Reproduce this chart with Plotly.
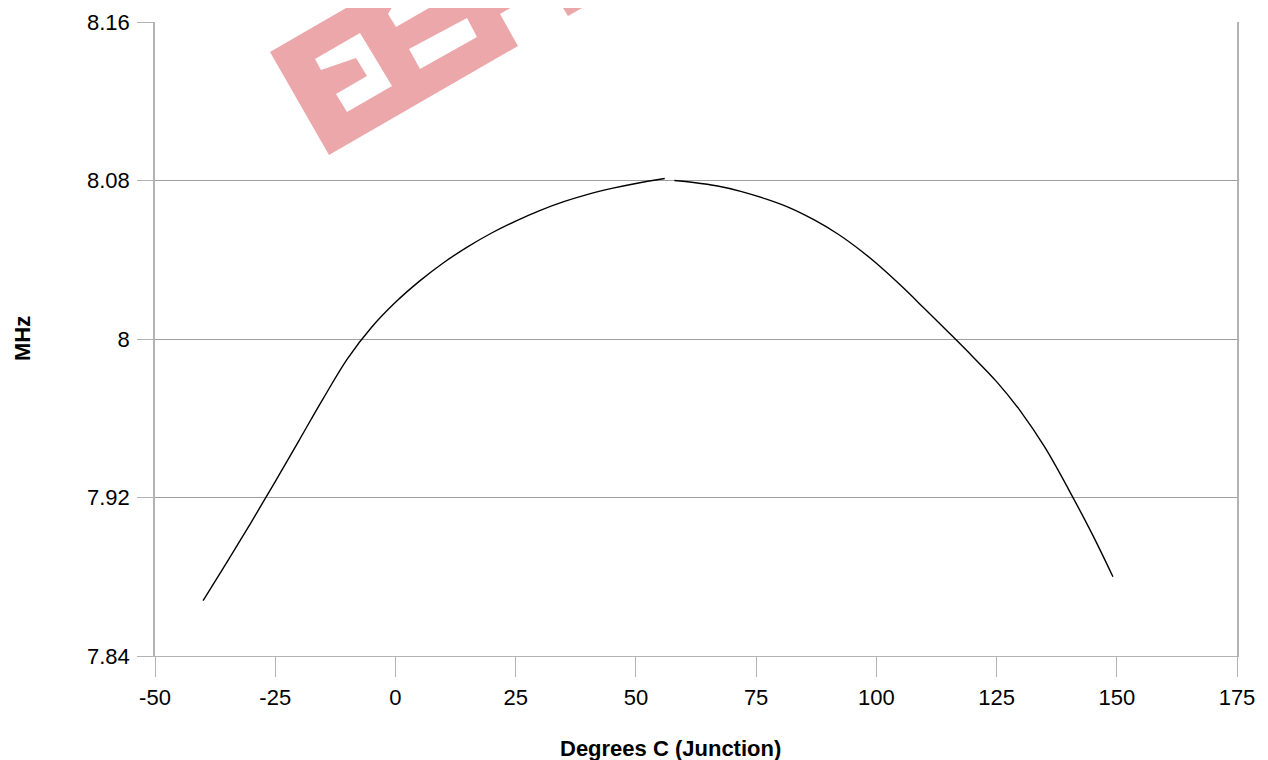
import plotly.graph_objects as go

# Data
temp_left = [-40, -35, -30, -25, -20, -15, -10, -5, 0, 5, 10, 15, 20, 25, 30, 35, 40, 45, 50, 56]
freq_left = [7.868, 7.8875, 7.9075, 7.928, 7.949, 7.970, 7.990, 8.0058, 8.0185, 8.0292, 8.0385, 8.0465,
             8.0535, 8.0595, 8.0648, 8.0693, 8.073, 8.076, 8.0785, 8.081]
temp_right = [58, 62, 67, 72, 77, 82, 87, 92, 97, 100, 105, 110, 115, 120, 125, 130, 135, 140, 145, 149.2]
freq_right = [8.0800, 8.0790, 8.0772, 8.0744, 8.0707, 8.0662, 8.0602, 8.0530, 8.0442, 8.0382, 8.0272,
              8.0154, 8.0034, 7.9912, 7.9785, 7.9635, 7.9455, 7.9240, 7.9010, 7.8800]

x_ticks = [-50, -25, 0, 25, 50, 75, 100, 125, 150, 175]
x_tick_text = ["-50", "-25", "0", "25", "50", "75", "100", "125", "150", "175"]
y_ticks = [7.84, 7.92, 8.00, 8.08, 8.16]
y_tick_text = ["7.84", "7.92", "8", "8.08", "8.16"]

# page offset of the plotly div (browser body margin)
OFF = 8
PAGE_W, PAGE_H = 1268, 760
L, R, T, B = 155, 1237, 22, 656   # plot area in page pixels


def px(pts):
    out = []
    for i, (a, b) in enumerate(pts):
        xp = (a - L) / (R - L)
        yp = (B - b) / (B - T)
        out.append(("M" if i == 0 else "L") + f"{xp:.5f},{yp:.5f}")
    return " ".join(out) + " Z"


PINK = "#eca7aa"
wm_pink = [
    [(270, 52), (329, 155), (518, 46), (500, 14), (548, -14), (384, -14)],
    [(553, -8), (568, 16), (612, -9)],
]
wm_white = [
    [(315, 59), (360, 33), (392, 86), (347, 112), (336, 94), (367, 76), (356, 58), (321, 70)],
    [(409, 49), (467, 18), (477, 37), (420, 69)],
    [(388, 14), (396, 27), (443, 0), (440, -14), (405, -14)],
]

shapes = []
for p in wm_pink:
    shapes.append(dict(type="path", xref="paper", yref="paper", path=px(p),
                       fillcolor=PINK, line=dict(width=0), layer="below"))
for p in wm_white:
    shapes.append(dict(type="path", xref="paper", yref="paper", path=px(p),
                       fillcolor="white", line=dict(width=0), layer="below"))

fig = go.Figure()
for xs, ys in [(temp_left, freq_left), (temp_right, freq_right)]:
    fig.add_trace(go.Scatter(x=xs, y=ys, mode="lines",
                             line=dict(color="black", width=1.4, shape="spline", smoothing=1.0),
                             showlegend=False, hoverinfo="skip"))

font = "Liberation Sans, Arial, sans-serif"
fig.update_layout(
    width=PAGE_W - OFF, height=PAGE_H - OFF,
    margin=dict(l=L - OFF, r=PAGE_W - R, t=T - OFF, b=PAGE_H - B, pad=0, autoexpand=False),
    paper_bgcolor="white",
    plot_bgcolor="rgba(0,0,0,0)",
    font=dict(family=font, size=22, color="black"),
    shapes=shapes,
    xaxis=dict(range=[-50, 175], tickvals=x_ticks, ticktext=x_tick_text, ticks="outside", ticklen=20,
               tickcolor="#b3b3b3", tickwidth=1, showgrid=False, zeroline=False,
               showline=True, linecolor="#b3b3b3", linewidth=1, mirror=False,
               ticklabelstandoff=2, automargin=False,
               tickfont=dict(size=22, family=font, color="black")),
    yaxis=dict(range=[7.84, 8.16], tickvals=y_ticks, ticktext=y_tick_text,
               ticks="outside", ticklen=16, tickcolor="#b3b3b3", tickwidth=1,
               showgrid=True, gridcolor="#a0a0a0", gridwidth=1, zeroline=False,
               showline=True, linecolor="#b3b3b3", linewidth=1.5, mirror=True,
               ticklabelstandoff=3, automargin=False,
               tickfont=dict(size=22, family=font, color="black")),
    annotations=[
        dict(text="<b>Degrees C (Junction)</b>", xref="paper", yref="paper",
             x=(670 - L) / (R - L), y=(B - 748) / (B - T), xanchor="center", yanchor="middle",
             showarrow=False, font=dict(size=22, family=font, color="black")),
        dict(text="<b>MHz</b>", xref="paper", yref="paper",
             x=(22 - L) / (R - L), y=(B - 339) / (B - T), xanchor="center", yanchor="middle",
             textangle=-90, showarrow=False, font=dict(size=22, family=font, color="black")),
    ],
)

fig.write_html("out.html")
